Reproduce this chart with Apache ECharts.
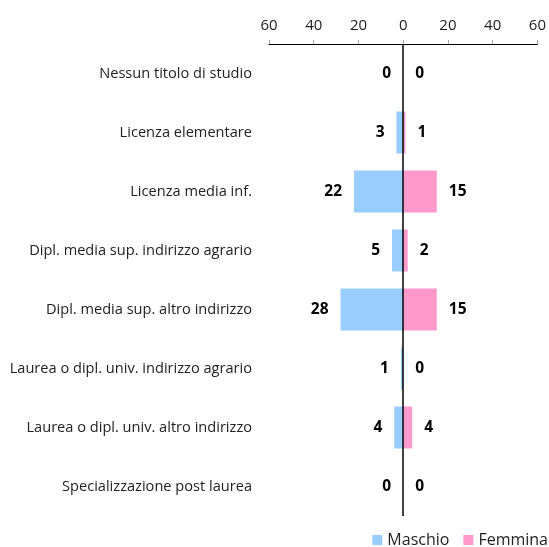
<!DOCTYPE html>
<html>
<head>
<meta charset="utf-8">
<script src="https://cdn.jsdelivr.net/npm/echarts@6/dist/echarts.min.js"></script>
<style>
  html, body { margin: 0; padding: 0; background: #fff; }
  #chart { width: 549px; height: 547px; }
</style>
</head>
<body>
<div id="chart"></div>
<script>
var categories = [
  "Nessun titolo di studio",
  "Licenza elementare",
  "Licenza media inf.",
  "Dipl. media sup. indirizzo agrario",
  "Dipl. media sup. altro indirizzo",
  "Laurea o dipl. univ. indirizzo agrario",
  "Laurea o dipl. univ. altro indirizzo",
  "Specializzazione post laurea"
];
var maschio = [0, 3, 22, 5, 28, 1, 4, 0];
var femmina = [0, 1, 15, 2, 15, 0, 4, 0];

var chart = echarts.init(document.getElementById("chart"));
var font = "'Open Sans', sans-serif";

var option = {
  animation: false,
  textStyle: { fontFamily: font },
  grid: { left: 269, right: 8, top: 44, bottom: 31, containLabel: false },
  legend: {
    data: ["Maschio", "Femmina"],
    right: -4,
    bottom: -6,
    itemWidth: 10,
    itemHeight: 10,
    itemGap: 14,
    icon: "rect",
    textStyle: { fontSize: 16, color: "#222", fontFamily: font }
  },
  xAxis: {
    type: "value",
    position: "top",
    min: -60,
    max: 60,
    interval: 20,
    axisLine: { show: true, lineStyle: { color: "#000", width: 1 } },
    axisTick: { show: true, length: 4, lineStyle: { color: "#aaa" } },
    splitLine: { show: false },
    axisLabel: {
      color: "#222",
      fontSize: 15,
      margin: 11,
      formatter: function (v) { return Math.abs(v); }
    }
  },
  yAxis: {
    type: "category",
    inverse: true,
    data: categories,
    axisLine: { show: false },
    axisTick: { show: false },
    axisLabel: { color: "#222", fontSize: 14.6, margin: 17 }
  },
  series: [
    {
      name: "Maschio",
      type: "bar",
      data: maschio.map(function (v) { return -v; }),
      barWidth: 42,
      barGap: "-100%",
      itemStyle: { color: "#99CCFF" },
      label: {
        show: true,
        position: "left",
        distance: 12,
        color: "#000",
        fontWeight: "bold",
        fontSize: 15.5,
        formatter: function (p) { return Math.abs(p.value); }
      },
      markLine: {
        silent: true,
        symbol: "none",
        label: { show: false },
        lineStyle: { color: "#000", width: 1.5, type: "solid" },
        data: [{ xAxis: 0 }]
      }
    },
    {
      name: "Femmina",
      type: "bar",
      data: femmina,
      barWidth: 42,
      itemStyle: { color: "#FF99CC" },
      label: {
        show: true,
        position: "right",
        distance: 12,
        color: "#000",
        fontWeight: "bold",
        fontSize: 15.5
      }
    }
  ]
};
chart.setOption(option);
</script>
</body>
</html>
